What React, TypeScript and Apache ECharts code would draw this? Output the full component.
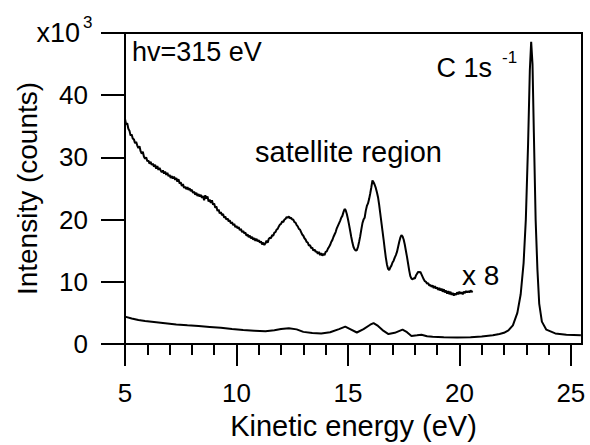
import React, { useEffect, useRef } from "react";
import * as echarts from "echarts";

// Lower spectrum (full scale), x1000 counts
const energyLow = [5.0, 5.3, 5.6, 5.9, 6.3, 6.8, 7.3, 7.8, 8.3, 8.8, 9.3, 9.8, 10.3, 10.8, 11.3, 11.7, 12.0, 12.35, 12.7, 13.0, 13.4, 13.8, 14.2, 14.6, 14.88, 15.1, 15.4, 15.7, 16.0, 16.15, 16.35, 16.6, 16.82, 17.1, 17.45, 17.65, 17.85, 18.1, 18.3, 18.55, 18.8, 19.3, 19.9, 20.5, 21.0, 21.5, 21.8, 22.0, 22.2, 22.4, 22.6, 22.75, 22.88, 22.98, 23.08, 23.16, 23.22, 23.28, 23.34, 23.42, 23.5, 23.58, 23.7, 23.9, 24.3, 24.8, 25.45];
const countsLow = [4.4, 4.1, 3.85, 3.7, 3.55, 3.35, 3.15, 3.0, 2.9, 2.75, 2.6, 2.4, 2.25, 2.15, 2.05, 2.2, 2.4, 2.55, 2.35, 1.95, 1.75, 1.7, 1.9, 2.4, 2.8, 2.4, 1.85, 2.4, 3.1, 3.35, 2.9, 2.1, 1.6, 1.8, 2.3, 1.9, 1.3, 1.4, 1.5, 1.25, 1.15, 1.1, 1.05, 1.1, 1.2, 1.4, 1.6, 1.8, 2.2, 3.0, 5.0, 8.0, 13, 20, 32, 44, 48.6, 45, 34, 20, 12, 6.5, 3.6, 2.3, 1.7, 1.5, 1.4];

// Satellite region magnified x8
const energyHigh = [
  5.0, 5.05, 5.1, 5.15, 5.2, 5.25, 5.3, 5.35, 5.4, 5.45, 5.5, 5.55, 5.6, 5.65, 5.7, 5.75, 5.8, 5.85, 5.9, 5.95,
  6.0, 6.05, 6.1, 6.15, 6.2, 6.25, 6.3, 6.35, 6.4, 6.45, 6.5, 6.55, 6.6, 6.65, 6.7, 6.75, 6.8, 6.85, 6.9, 6.95,
  7.0, 7.05, 7.1, 7.15, 7.2, 7.25, 7.3, 7.35, 7.4, 7.45, 7.5, 7.55, 7.6, 7.65, 7.7, 7.75, 7.8, 7.85, 7.9, 7.95,
  8.0, 8.05, 8.1, 8.15, 8.2, 8.25, 8.3, 8.35, 8.4, 8.45, 8.5, 8.55, 8.6, 8.65, 8.7, 8.75, 8.8, 8.85, 8.9, 8.95,
  9.0, 9.05, 9.1, 9.15, 9.2, 9.25, 9.3, 9.35, 9.4, 9.45, 9.5, 9.55, 9.6, 9.65, 9.7, 9.75, 9.8, 9.85, 9.9, 9.95,
  10.0, 10.05, 10.1, 10.15, 10.2, 10.25, 10.3, 10.35, 10.4, 10.45, 10.5, 10.55, 10.6, 10.65, 10.7, 10.75, 10.8, 10.85, 10.9, 10.95,
  11.0, 11.05, 11.1, 11.15, 11.2, 11.25, 11.3, 11.35, 11.4, 11.45, 11.5, 11.55, 11.6, 11.65, 11.7, 11.75, 11.8, 11.85, 11.9, 11.95,
  12.0, 12.05, 12.1, 12.15, 12.2, 12.25, 12.3, 12.35, 12.4, 12.45, 12.5, 12.55, 12.6, 12.65, 12.7, 12.75, 12.8, 12.85, 12.9, 12.95,
  13.0, 13.05, 13.1, 13.15, 13.2, 13.25, 13.3, 13.35, 13.4, 13.45, 13.5, 13.55, 13.6, 13.65, 13.7, 13.75, 13.8, 13.85, 13.9, 13.95,
  14.0, 14.05, 14.1, 14.15, 14.2, 14.25, 14.3, 14.35, 14.4, 14.45, 14.5, 14.55, 14.6, 14.65, 14.7, 14.75, 14.8, 14.85, 14.9, 14.95,
  15.0, 15.05, 15.1, 15.15, 15.2, 15.25, 15.3, 15.35, 15.4, 15.45, 15.5, 15.55, 15.6, 15.65, 15.7, 15.75, 15.8, 15.85, 15.9, 15.95,
  16.0, 16.05, 16.1, 16.15, 16.2, 16.25, 16.3, 16.35, 16.4, 16.45, 16.5, 16.55, 16.6, 16.65, 16.7, 16.75, 16.8, 16.85, 16.9, 16.95,
  17.0, 17.05, 17.1, 17.15, 17.2, 17.25, 17.3, 17.35, 17.4, 17.45, 17.5, 17.55, 17.6, 17.65, 17.7, 17.75, 17.8, 17.85, 17.9, 17.95,
  18.0, 18.05, 18.1, 18.15, 18.2, 18.25, 18.3, 18.35, 18.4, 18.45, 18.5, 18.55, 18.6, 18.65, 18.7, 18.75, 18.8, 18.85, 18.9, 18.95,
  19.0, 19.05, 19.1, 19.15, 19.2, 19.25, 19.3, 19.35, 19.4, 19.45, 19.5, 19.55, 19.6, 19.65, 19.7, 19.75, 19.8, 19.85, 19.9, 19.95,
  20.0, 20.05, 20.1, 20.15, 20.2, 20.25, 20.3, 20.35, 20.4, 20.45, 20.5, 20.55, 20.6,
];
const countsHigh = [
  36.2, 35.3, 35.5, 34.6, 34.3, 33.5, 33.7, 33.0, 32.9, 32.3, 32.5, 31.9, 31.5, 31.8, 31.0, 30.6, 30.9, 30.1, 29.8, 30.0,
  29.4, 29.5, 29.0, 29.3, 28.8, 29.0, 28.5, 28.8, 28.2, 28.6, 28.0, 28.3, 27.9, 27.6, 27.9, 27.4, 27.7, 27.2, 27.5, 27.0,
  27.2, 26.7, 27.0, 26.6, 26.9, 26.4, 26.7, 26.1, 26.5, 25.8, 26.0, 25.4, 25.7, 25.1, 25.3, 24.9, 25.2, 24.8, 25.0, 24.6,
  24.8, 24.3, 24.5, 24.0, 24.3, 23.8, 24.1, 23.7, 24.0, 23.5, 23.8, 23.1, 23.9, 23.4, 23.7, 22.9, 23.2, 22.7, 23.1, 22.4,
  22.6, 21.9, 22.1, 21.4, 21.6, 21.0, 21.2, 20.7, 20.9, 20.3, 20.5, 20.0, 20.2, 19.7, 19.9, 19.4, 19.6, 19.1, 19.3, 18.8,
  19.0, 18.6, 18.8, 18.3, 18.5, 18.0, 18.2, 17.8, 17.9, 17.4, 17.6, 17.2, 17.4, 17.0, 17.2, 16.8, 17.0, 16.6, 16.9, 16.5,
  16.7, 16.3, 16.5, 16.0, 16.3, 15.9, 16.2, 16.6, 16.3, 16.9, 17.1, 17.0, 17.5, 17.4, 17.9, 18.0, 18.4, 18.5, 18.9, 19.2,
  19.3, 19.7, 19.6, 20.0, 20.1, 20.4, 20.3, 20.5, 20.2, 20.3, 20.0, 20.0, 19.6, 19.5, 19.1, 18.9, 18.5, 18.4, 18.0, 17.6,
  17.4, 17.0, 16.8, 16.4, 16.3, 15.8, 15.9, 15.4, 15.5, 15.0, 15.2, 14.8, 14.9, 14.5, 14.8, 14.3, 14.6, 14.2, 14.5, 14.3,
  14.8, 14.9, 15.3, 15.6, 15.9, 16.4, 16.7, 17.2, 17.6, 18.0, 18.6, 19.0, 19.4, 19.8, 20.3, 20.6, 21.2, 21.7, 21.5, 20.9,
  20.1, 19.2, 18.2, 17.2, 16.3, 15.6, 15.2, 15.0, 15.1, 15.6, 16.4, 17.3, 18.4, 19.4, 20.0, 20.3, 21.4, 22.2, 22.6, 23.3,
  24.2, 25.2, 26.3, 26.0, 25.6, 25.1, 24.4, 23.6, 22.4, 21.0, 19.6, 18.2, 16.8, 15.3, 13.9, 12.8, 12.1, 11.9, 12.3, 12.6,
  13.1, 13.4, 13.9, 14.3, 14.8, 15.6, 16.4, 17.1, 17.5, 17.3, 16.8, 16.0, 15.0, 14.0, 12.9, 11.8, 10.9, 10.5, 10.4, 10.6,
  10.5, 11.0, 11.3, 11.6, 11.5, 11.6, 11.2, 10.8, 10.4, 10.1, 10.0, 9.7, 9.8, 9.4, 9.5, 9.2, 9.4, 9.0, 9.3, 8.9,
  9.1, 8.7, 9.0, 8.6, 8.9, 8.4, 8.8, 8.3, 8.6, 8.1, 8.5, 8.0, 8.4, 7.9, 8.2, 7.8, 8.1, 7.9, 8.3, 8.0,
  8.4, 8.1, 8.3, 8.0, 8.4, 8.2, 8.5, 8.3, 8.5, 8.3, 8.6, 8.4, 8.5,
];

const xMajorTicks = [5, 10, 15, 20, 25];
const xMinorTicks = [6, 7, 8, 9, 11, 12, 13, 14, 16, 17, 18, 19, 21, 22, 23, 24];

const FONT = "'Liberation Sans', Arial, Helvetica, sans-serif";

export default function App() {
  const ref = useRef<HTMLDivElement>(null);
  useEffect(() => {
    document.body.style.margin = "0";
    if (!ref.current) return;
    const chart = echarts.init(ref.current, null, { renderer: "svg" });
    const low = energyLow.map((e, i) => [e, countsLow[i]]);
    const high = energyHigh.map((e, i) => [e, countsHigh[i]]);
    chart.setOption({
      animation: false,
      backgroundColor: "#fff",
      grid: { left: 125, right: 8, top: 33, bottom: 95, show: true, borderColor: "#000", borderWidth: 2 },
      xAxis: [
        {
          type: "value", min: 5, max: 25.5, interval: 5, position: "bottom",
          name: "Kinetic energy (eV)", nameLocation: "middle", nameGap: 67,
          nameTextStyle: { color: "#000", fontSize: 29, fontFamily: FONT },
          axisLine: { lineStyle: { color: "#000", width: 2 } },
          axisTick: { inside: false, length: 22, lineStyle: { color: "#000", width: 2 }, customValues: xMajorTicks },
          axisLabel: { color: "#000", fontSize: 26, fontFamily: FONT, margin: 36, customValues: xMajorTicks },
          splitLine: { show: false },
        },
        {
          type: "value", min: 5, max: 25.5, position: "bottom",
          axisLine: { show: false },
          axisTick: { inside: false, length: 11, lineStyle: { color: "#000", width: 2 }, customValues: xMinorTicks },
          axisLabel: { show: false },
          splitLine: { show: false },
        },
      ],
      yAxis: {
        type: "value", min: 0, max: 50, interval: 10,
        name: "Intensity (counts)", nameLocation: "middle", nameGap: 84, nameRotate: 90,
        nameTextStyle: { color: "#000", fontSize: 28, fontFamily: FONT },
        axisLine: { show: true, lineStyle: { color: "#000", width: 2 } },
        axisTick: { show: true, inside: false, length: 24, lineStyle: { color: "#000", width: 2 } },
        axisLabel: { color: "#000", fontSize: 26, fontFamily: FONT, margin: 37, formatter: (v: number) => (v === 50 ? "" : String(v)) },
        splitLine: { show: false },
      },
      graphic: [
        { type: "text", x: 80, y: 33, style: { text: "x10", fill: "#000", font: `27px ${FONT}`, textAlign: "right", textVerticalAlign: "middle" } },
        { type: "text", x: 83, y: 22, style: { text: "3", fill: "#000", font: `17px ${FONT}`, textAlign: "left", textVerticalAlign: "middle" } },
        { type: "text", x: 132, y: 52, style: { text: "hv=315 eV", fill: "#000", font: `27px ${FONT}`, textAlign: "left", textVerticalAlign: "middle" } },
        { type: "text", x: 255, y: 152, style: { text: "satellite region", fill: "#000", font: `29px ${FONT}`, textAlign: "left", textVerticalAlign: "middle" } },
        { type: "text", x: 462, y: 275, style: { text: "x 8", fill: "#000", font: `28px ${FONT}`, textAlign: "left", textVerticalAlign: "middle" } },
        { type: "text", x: 492, y: 68, style: { text: "C 1s", fill: "#000", font: `27px ${FONT}`, textAlign: "right", textVerticalAlign: "middle" } },
        { type: "text", x: 502, y: 57, style: { text: "-1", fill: "#000", font: `17px ${FONT}`, textAlign: "left", textVerticalAlign: "middle" } },
      ],
      series: [
        { type: "line", data: low, showSymbol: false, lineStyle: { color: "#000", width: 2 }, xAxisIndex: 0 },
        { type: "line", data: high, showSymbol: false, lineStyle: { color: "#000", width: 2 }, xAxisIndex: 0 },
      ],
    });
    return () => chart.dispose();
  }, []);
  return <div ref={ref} style={{ width: 590, height: 445 }} />;
}
